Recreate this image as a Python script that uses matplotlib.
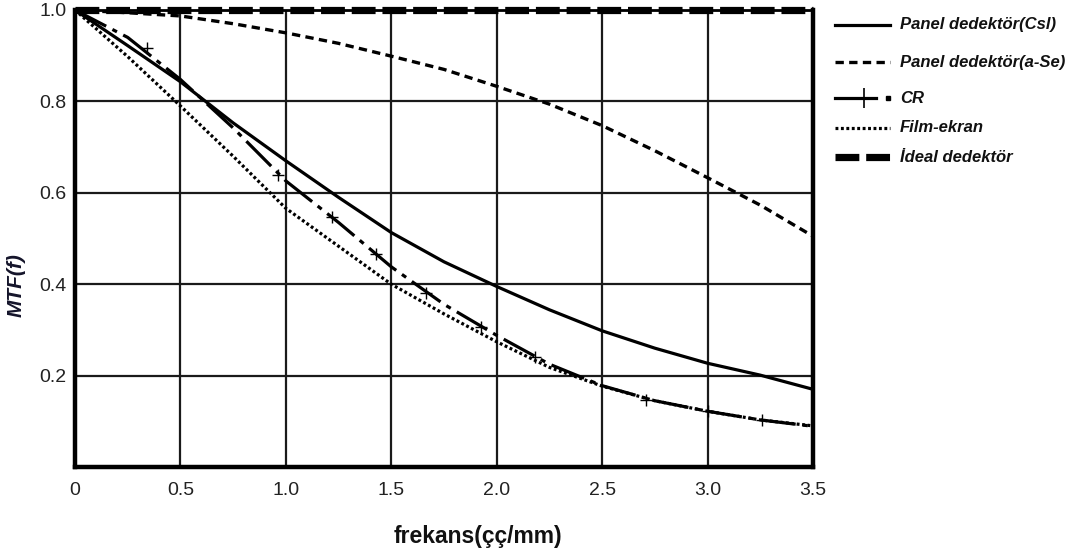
import matplotlib
matplotlib.use("Agg")
import matplotlib.pyplot as plt
from matplotlib.lines import Line2D

plt.rcParams['font.family'] = ['Liberation Sans', 'DejaVu Sans']

# (0.25 aralikla)
freq = [0, 0.25, 0.5, 0.75, 1.0, 1.25, 1.5, 1.75, 2.0, 2.25, 2.5, 2.75, 3.0, 3.25, 3.5]
mtf_csi = [1.0, 0.922, 0.843, 0.753, 0.67, 0.59, 0.513, 0.449, 0.395, 0.344, 0.298, 0.26, 0.227, 0.201, 0.17]
mtf_ase = [1.0, 0.994, 0.987, 0.97, 0.95, 0.927, 0.899, 0.87, 0.833, 0.794, 0.747, 0.692, 0.633, 0.573, 0.505]
mtf_cr = [1.0, 0.94, 0.848, 0.742, 0.626, 0.535, 0.438, 0.356, 0.288, 0.225, 0.178, 0.145, 0.122, 0.103, 0.089]
mtf_film = [1.0, 0.898, 0.79, 0.68, 0.566, 0.483, 0.40, 0.335, 0.274, 0.218, 0.177, 0.145, 0.122, 0.103, 0.09]
mtf_ideal = [1.0] * len(freq)

# CR egrisi uzerindeki arti isaretleri
cr_mark_x = [0.34, 0.964, 1.217, 1.427, 1.663, 1.927, 2.18, 2.71, 3.0, 3.26]
cr_mark_y = [0.916, 0.639, 0.548, 0.466, 0.381, 0.307, 0.241, 0.147, 0.122, 0.102]

x_ticks = [0, 0.5, 1.0, 1.5, 2.0, 2.5, 3.0, 3.5]
x_labels = ['0', '0.5', '1.0', '1.5', '2.0', '2.5', '3.0', '3.5']
y_ticks = [0.2, 0.4, 0.6, 0.8, 1.0]
y_labels = ['0.2', '0.4', '0.6', '0.8', '1.0']

labels = ['Panel dedektör(Csl)', 'Panel dedektör(a-Se)', 'CR', 'Film-ekran', 'İdeal dedektör']

W, H = 1079, 553
fig = plt.figure(figsize=(W / 100, H / 100), dpi=100)
ax = fig.add_axes([75 / W, 1 - 467 / H, 738 / W, 457 / H])

ax.set_xlim(0, 3.5)
ax.set_ylim(0, 1.0)
ax.set_xticks(x_ticks)
ax.set_xticklabels(x_labels)
ax.set_yticks(y_ticks)
ax.set_yticklabels(y_labels)
ax.tick_params(axis='both', length=0, labelsize=14, labelcolor='#222222')
ax.tick_params(axis='x', pad=11)
ax.tick_params(axis='y', pad=6)
ax.grid(True, color='#1a1a1a', linewidth=1.6)
ax.set_axisbelow(True)

for s in ['left', 'bottom', 'right']:
    ax.spines[s].set_linewidth(3.2)
ax.spines['top'].set_linewidth(2)

# egriler
ax.plot(freq, mtf_csi, '-', color='black', lw=2.3)
ax.plot(freq, mtf_ase, color='black', lw=2.4, dashes=(2.5, 1.6))
ax.plot(freq, mtf_cr, color='black', lw=2.3, dashes=(11, 2.2, 1.6, 2.2))
ax.plot(cr_mark_x, cr_mark_y, '+', ms=8, mew=1, color='black')
ax.plot(freq, mtf_film, color='black', lw=2.3, dashes=(0.9, 0.8))
ax.plot(freq, mtf_ideal, color='black', lw=5.2, dashes=(3.3, 0.95),
        clip_on=False, dash_capstyle='butt', solid_capstyle='butt')

# eksen yazilari
fig.text(478 / W, 1 - 537 / H, 'frekans(çç/mm)', fontsize=16.5, fontweight='bold',
         ha='center', va='center', color='#111111')
fig.text(16 / W, 1 - 285 / H, 'MTF(f)', fontsize=15, fontweight='bold', style='italic',
         rotation=90, ha='center', va='center', color='#14142a')

# lejant (elle yerlestirildi)
row_y = [25, 62, 98, 128, 157]
h0, h1 = 835 / W, 890 / W
styles = [
    dict(lw=2.3),
    dict(lw=2.4, dashes=(2.5, 1.6)),
    None,
    dict(lw=2.3, dashes=(0.9, 0.8)),
    dict(lw=5.2, dashes=(3.3, 0.95), dash_capstyle='butt'),
]
for yy, lab, st in zip(row_y, labels, styles):
    yf = 1 - yy / H
    if st is None:
        fig.add_artist(Line2D([h0, 876 / W], [yf, yf], color='black', lw=2.3,
                              transform=fig.transFigure))
        fig.add_artist(Line2D([864 / W], [yf], marker='+', ms=15, mew=1.2,
                              color='black', transform=fig.transFigure))
        fig.add_artist(Line2D([888 / W], [yf], marker='s', ms=3, color='black',
                              transform=fig.transFigure))
    else:
        fig.add_artist(Line2D([h0, h1], [yf, yf], color='black',
                              transform=fig.transFigure, **st))
    fig.text(900 / W, yf, lab, fontsize=12, fontweight='bold', style='italic',
             va='center', ha='left', color='#111111')

fig.savefig('out.png', dpi=100)
